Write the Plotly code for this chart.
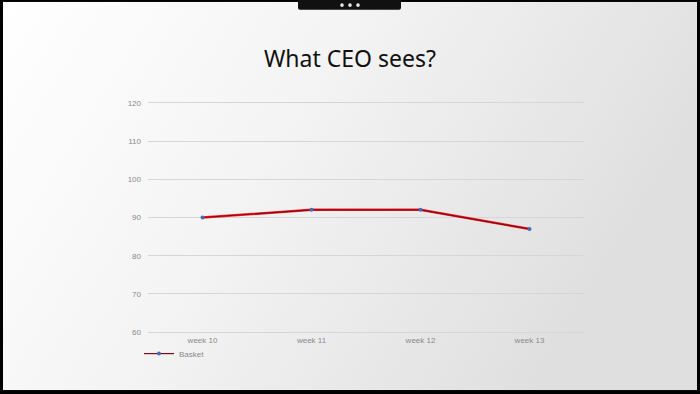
import base64
import plotly.graph_objects as go

# ---- data ----
weeks = ["week 10", "week 11", "week 12", "week 13"]
basket = [90, 92, 92, 87]
y_ticks = [60, 70, 80, 90, 100, 110, 120]
title_text = "What CEO sees?"
series_name = "Basket"

W, H = 700, 394
Y_LO, Y_HI = 59.5, 120.5
PX_PER_UNIT = (332 - 103) / 60.0
L, R = 148, 116
T = 103 - (Y_HI - 120) * PX_PER_UNIT
B = H - 332 - (60 - Y_LO) * PX_PER_UNIT
PW, PH = W - L - R, H - T - B


def px_x(x):
    return (x - L) / PW


def px_y(y):
    return (H - B - y) / PH


fig = go.Figure()
# outer red glow of the line
fig.add_trace(go.Scatter(
    x=weeks, y=basket, mode="lines", line=dict(color="#ff2020", width=2.5),
    showlegend=False, hoverinfo="skip"))
fig.add_trace(go.Scatter(
    x=weeks, y=basket, mode="lines+markers", name=series_name,
    line=dict(color="#7e0a1a", width=1.2),
    marker=dict(color="#4a6bb5", size=4, symbol="circle")))

# gradient background as an inline svg image
svg = ('<svg xmlns="http://www.w3.org/2000/svg" width="700" height="394">'
       '<defs><linearGradient id="g" x1="0" y1="0" x2="1" y2="0.35">'
       '<stop offset="0" stop-color="#ffffff"/>'
       '<stop offset="0.45" stop-color="#f4f4f4"/>'
       '<stop offset="1" stop-color="#dfdfdf"/></linearGradient></defs>'
       '<rect width="700" height="394" fill="url(#g)"/></svg>')
uri = "data:image/svg+xml;base64," + base64.b64encode(svg.encode()).decode()
x0, x1 = 3, 697
y0, y1 = 2, 390
fig.add_layout_image(dict(
    source=uri, xref="paper", yref="paper",
    x=px_x(x0), y=px_y(y0), sizex=(x1 - x0) / PW, sizey=(y1 - y0) / PH,
    xanchor="left", yanchor="top", sizing="stretch", layer="below"))

shapes = []
# top tab
tx0, tx1, ty = 298, 401, 10
r = 2
path = (f"M {px_x(tx0)},{px_y(-1)} L {px_x(tx0)},{px_y(ty - r)} "
        f"Q {px_x(tx0)},{px_y(ty)} {px_x(tx0 + r)},{px_y(ty)} "
        f"L {px_x(tx1 - r)},{px_y(ty)} Q {px_x(tx1)},{px_y(ty)} {px_x(tx1)},{px_y(ty - r)} "
        f"L {px_x(tx1)},{px_y(-1)} Z")
shapes.append(dict(type="path", xref="paper", yref="paper", path=path,
                   fillcolor="#111111", line=dict(width=0), layer="above"))
for cx in (342, 350, 358):
    shapes.append(dict(type="circle", xref="paper", yref="paper",
                       x0=px_x(cx - 1.8), x1=px_x(cx + 1.8),
                       y0=px_y(5.3 + 1.8), y1=px_y(5.3 - 1.8),
                       fillcolor="#e8e8e8", line=dict(width=0), layer="above"))
fig.update_layout(shapes=shapes)

fig.update_layout(
    width=W, height=H,
    margin=dict(l=L, r=R, t=T, b=B, pad=0),
    paper_bgcolor="#000000", plot_bgcolor="rgba(0,0,0,0)",
    title=dict(text=title_text, x=0.5, xref="container", xanchor="center",
               y=1 - 59 / H, yanchor="middle",
               font=dict(family="Noto Sans", size=23, color="#111111")),
    xaxis=dict(range=[-0.5, 3.5], showgrid=False, zeroline=False,
               showline=False, ticks="", ticklabelstandoff=0,
               tickfont=dict(family="Liberation Sans", size=8, color="#8a8a8a")),
    yaxis=dict(range=[Y_LO, Y_HI], tickvals=y_ticks, showgrid=True,
               gridcolor="#d6d6d6", gridwidth=1, zeroline=False,
               showline=False, ticks="", ticklabelstandoff=6,
               tickfont=dict(family="Liberation Sans", size=8, color="#8a8a8a")),
    legend=dict(x=px_x(139), y=px_y(339), xanchor="left", yanchor="top",
                orientation="h", bgcolor="rgba(0,0,0,0)", itemwidth=30,
                font=dict(family="Liberation Sans", size=8, color="#8a8a8a")),
    showlegend=True,
)

fig.write_html("out.html", config={"displayModeBar": False},
               post_script="document.body.style.margin='0';"
                           "document.body.style.overflow='hidden';")
